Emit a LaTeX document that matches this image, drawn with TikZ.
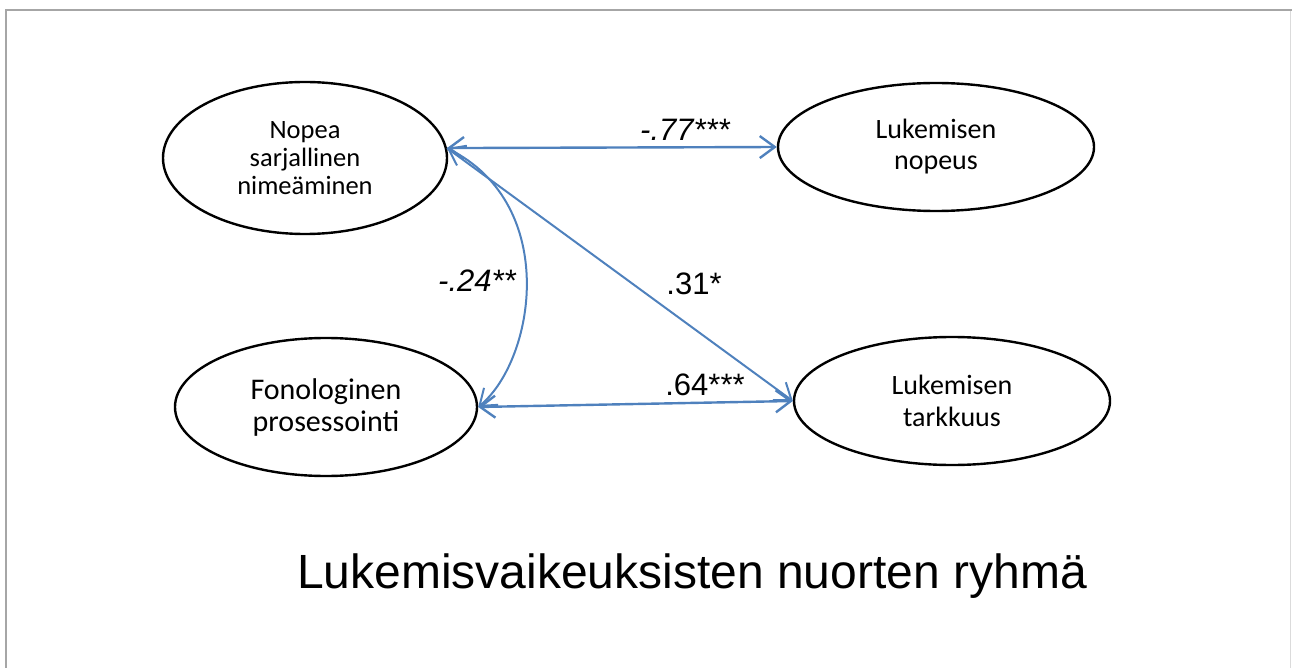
\documentclass[tikz,border=0pt]{standalone}
\usepackage{fontspec}
\setmainfont{Liberation Sans}
\newfontfamily\labfont{Carlito}
\usetikzlibrary{shapes.geometric,arrows.meta}
\definecolor{arrowblue}{RGB}{79,129,189}
\definecolor{framegray}{RGB}{166,166,166}
\tikzset{
  var/.style={draw=black, line width=2.4, ellipse, inner sep=0pt, align=center,
    font=\labfont\fontsize{26.5}{28}\selectfont},
  conn/.style={draw=arrowblue, line width=2.4},
  coef/.style={font=\fontsize{31}{34}\selectfont, inner sep=0pt}
}
\begin{document}
\begin{tikzpicture}[x=1pt,y=-1pt]
\useasboundingbox (0,0) rectangle (1292,668);
\draw[framegray, line width=2.5] (6,668) -- (6,10) -- (1292,10);
\draw[framegray!40, line width=1] (1290,11) -- (1290,668);

\node[var, minimum width=284, minimum height=152] (A) at (305,158) {Nopea\\sarjallinen\\nimeäminen};
\node[var, minimum width=316, minimum height=128, font=\labfont\fontsize{28}{31}\selectfont] (B) at (936,147) {Lukemisen\\nopeus};
\node[var, minimum width=302, minimum height=138, font=\labfont\fontsize{30}{32}\selectfont] (C) at (326,407) {Fonologinen\\prosessointi};
\node[var, minimum width=316, minimum height=128, font=\labfont\fontsize{28}{32}\selectfont] (D) at (952,401) {Lukemisen\\tarkkuus};

\draw[conn, {Straight Barb[length=15, width=22]}-{Straight Barb[length=15, width=22]}] (A.4) -- (B.west);
\draw[conn, {Straight Barb[length=15, width=22]}-{Straight Barb[length=15, width=22]}] (C.east) -- (D.west);
\draw[conn, line width=2, -{Straight Barb[length=15, width=22]}] (A.4) -- (D.west);
\draw[conn, line width=2, {Straight Barb[length=15, width=22]}-{Straight Barb[length=15, width=22]}] (A.4) .. controls (560,205) and (535,360) .. (C.east);

\node[coef] (l77) at (685,130) {\itshape -.77***};
\node[coef] (l24) at (477,281) {\itshape -.24**};
\node[coef] (l31) at (694,284) {.31*};
\node[coef] (l64) at (705,385) {.64***};

\node[font=\fontsize{48}{52}\selectfont, inner sep=0pt] (title) at (692,576) {Lukemisvaikeuksisten nuorten ryhmä};
\end{tikzpicture}
\end{document}
